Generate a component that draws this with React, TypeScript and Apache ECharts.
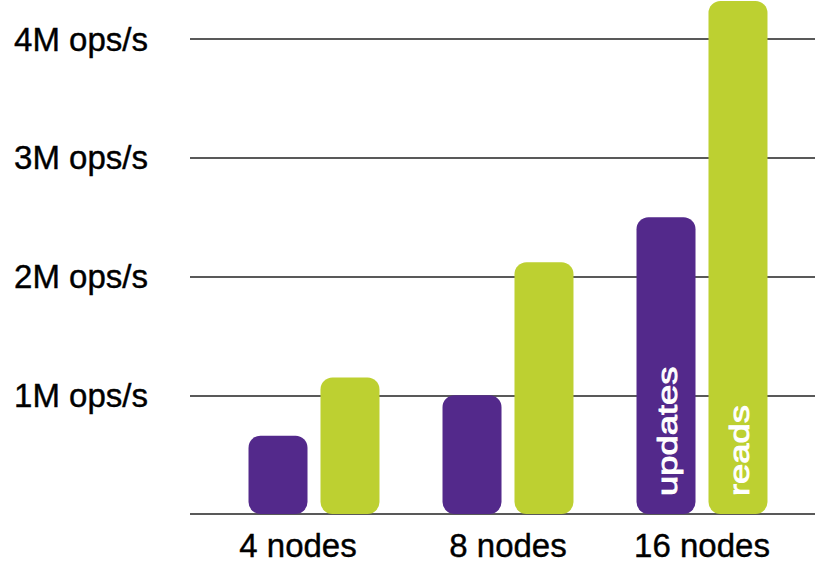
import React, { useEffect, useRef } from "react";
import * as echarts from "echarts";

const categories = ["4 nodes", "8 nodes", "16 nodes"];
const updates = [0.66, 1.0, 2.5];
const reads = [1.15, 2.12, 4.32];
const yTickLabels = ["", "1M ops/s", "2M ops/s", "3M ops/s", "4M ops/s"];
const seriesNames = ["updates", "reads"];

const FONT = "'Liberation Sans', Arial, Helvetica, sans-serif";
const PURPLE = "#53298b";
const GREEN = "#bdd031";
const BAR_W = 59;
const BAR_GAP = 0.22;

export default function App() {
  const ref = useRef<HTMLDivElement>(null);
  useEffect(() => {
    if (!ref.current) return;
    const chart = echarts.init(ref.current, null, { renderer: "svg" });
    const gridTop = 39;
    const gridBottom = 65;
    const labelPads = [[0, 32, 0, 0], [0, 0, 0, 0], [0, 0, 0, 0]];
    chart.setOption({
      animation: false,
      backgroundColor: "#ffffff",
      grid: [
        { left: 190, right: 3, top: gridTop, bottom: gridBottom },
        { left: 217, right: 19, top: gridTop, bottom: gridBottom },
      ],
      xAxis: [
        { gridIndex: 0, type: "category", data: categories, show: false },
        {
          gridIndex: 1,
          type: "category",
          data: categories.map((c, i) => ({
            value: c,
            textStyle: { padding: labelPads[i] },
          })),
          axisLine: { show: false },
          axisTick: { show: false },
          axisLabel: {
            color: "#000",
            fontSize: 33,
            fontFamily: FONT,
            margin: 15,
            textBorderColor: "#000",
            textBorderWidth: 0.4,
          },
        },
      ],
      yAxis: [
        {
          gridIndex: 0,
          type: "value",
          min: 0,
          max: 4,
          interval: 1,
          axisLine: { show: false },
          axisTick: { show: false },
          axisLabel: {
            color: "#000",
            fontSize: 33,
            fontFamily: FONT,
            margin: 42,
            textBorderColor: "#000",
            textBorderWidth: 0.4,
            formatter: (_v: number, i: number) => yTickLabels[i] ?? "",
          },
          splitLine: { show: true, lineStyle: { color: "#222222", width: 1.6 } },
        },
        { gridIndex: 1, type: "value", min: 0, max: 4, interval: 1, show: false },
      ],
      series: [
        {
          name: seriesNames[0],
          type: "bar",
          xAxisIndex: 1,
          yAxisIndex: 1,
          data: updates,
          barWidth: BAR_W,
          barGap: BAR_GAP * 100 + "%",
          clip: false,
          itemStyle: { color: PURPLE, borderRadius: 12 },
        },
        {
          name: seriesNames[1],
          type: "bar",
          xAxisIndex: 1,
          yAxisIndex: 1,
          data: reads,
          barWidth: BAR_W,
          barGap: BAR_GAP * 100 + "%",
          clip: false,
          itemStyle: { color: GREEN, borderRadius: 12 },
        },
      ],
    });

    const last = categories.length - 1;
    const p = chart.convertToPixel({ xAxisIndex: 1, yAxisIndex: 1 }, [last, 0]) as number[];
    const half = (BAR_W * (1 + BAR_GAP)) / 2;
    const mk = (text: string, cx: number) => ({
      type: "text",
      x: cx + 2,
      y: p[1] - 18,
      rotation: Math.PI / 2,
      scaleX: 1.3,
      z: 100,
      style: {
        text,
        fill: "#ffffff",
        stroke: "#ffffff",
        lineWidth: 0.9,
        fontSize: 28,
        fontFamily: FONT,
        align: "left",
        verticalAlign: "middle",
        textAlign: "left",
        textVerticalAlign: "middle",
      },
    });
    chart.setOption({
      graphic: [mk(seriesNames[0], p[0] - half), mk(seriesNames[1], p[0] + half)],
    });

    return () => chart.dispose();
  }, []);
  return (
    <div
      ref={ref}
      style={{ position: "fixed", left: 0, top: 0, width: 818, height: 579 }}
    />
  );
}
